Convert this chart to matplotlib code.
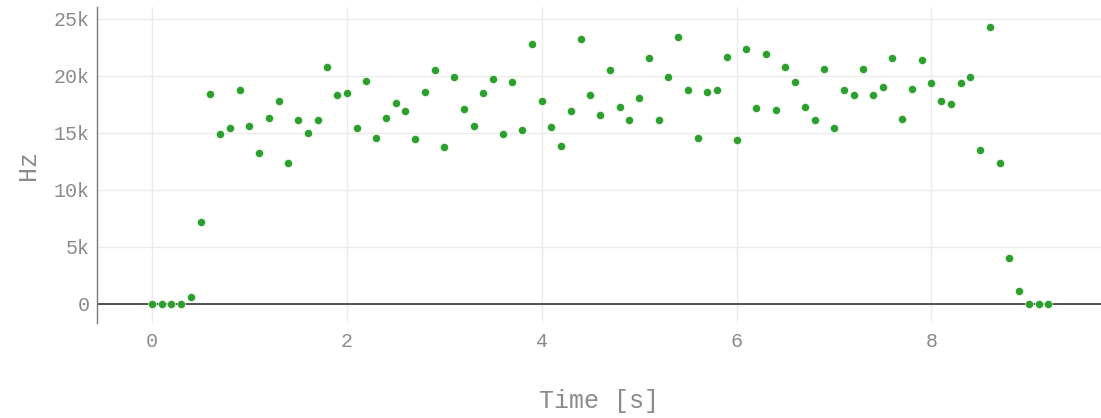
import matplotlib
matplotlib.use("Agg")
import matplotlib.pyplot as plt
from matplotlib.ticker import FuncFormatter

time_s = [round(0.1 * i, 1) for i in range(93)]
freq_hz = [
    0, 0, 0, 0, 600, 7200, 18400, 14900, 15400, 18800,
    15600, 13200, 16300, 17800, 12400, 16100, 15000, 16100, 20800, 18300,
    18500, 15400, 19600, 14600, 16300, 17600, 16900, 14500, 18600, 20500,
    13800, 19900, 17100, 15600, 18500, 19700, 14900, 19500, 15300, 22800,
    17800, 15500, 13900, 16900, 23200, 18300, 16600, 20500, 17300, 16100,
    18100, 21600, 16100, 19900, 23400, 18800, 14600, 18600, 18800, 21700,
    14400, 22400, 17200, 21900, 17000, 20800, 19500, 17300, 16100, 20600,
    15400, 18800, 18300, 20600, 18300, 19000, 21600, 16200, 18900, 21400,
    19400, 17800, 17500, 19400, 19900, 13500, 24300, 12400, 4000, 1100,
    0, 0, 0,
]
x_ticks = [0, 2, 4, 6, 8]
y_ticks = [0, 5000, 10000, 15000, 20000, 25000]

W, H = 1101, 418
fig = plt.figure(figsize=(W / 100, H / 100), dpi=100)
ax = fig.add_axes([97 / W, 1 - 323 / H, (1101 - 97) / W, (323 - 7) / H])

mono = "Liberation Mono"
gray = "#8a8a8a"

ax.scatter(time_s, freq_hz, s=34, color="#2ca02c", edgecolors="white",
           linewidths=0.4, zorder=3, clip_on=False)
ax.axhline(0, color="#444444", linewidth=1.3, zorder=2)

ax.set_xlim(-0.564, 9.74)
ax.set_ylim(-1670, 26050)
ax.set_xticks(x_ticks)
ax.set_yticks(y_ticks)
ax.yaxis.set_major_formatter(FuncFormatter(lambda v, p: "0" if v == 0 else f"{int(v/1000)}k"))

ax.grid(True, color="#ebebeb", linewidth=1)
ax.set_axisbelow(True)
for s in ["top", "right", "bottom"]:
    ax.spines[s].set_visible(False)
ax.spines["left"].set_color("#777777")
ax.spines["left"].set_linewidth(1)

ax.tick_params(axis="both", length=0, labelsize=14.4, labelcolor=gray)
ax.tick_params(axis="y", pad=5)
ax.tick_params(axis="x", pad=6.5)
for lab in ax.get_xticklabels() + ax.get_yticklabels():
    lab.set_fontfamily(mono)

ax.set_xlabel("Time [s]", fontfamily=mono, fontsize=18, color=gray, labelpad=27)
ax.set_ylabel("Hz", fontfamily=mono, fontsize=18, color=gray, labelpad=10)

fig.savefig("out.png", dpi=100)
